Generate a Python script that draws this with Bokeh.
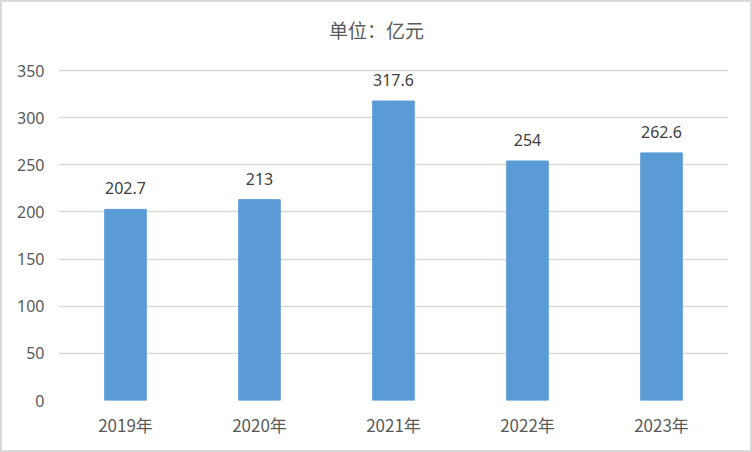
from bokeh.plotting import figure
from bokeh.models import ColumnDataSource, Range1d
from bokeh.core.properties import value
from bokeh.embed import file_html
from bokeh.resources import INLINE

categories = ["2019年", "2020年", "2021年", "2022年", "2023年"]
values = [202.7, 213, 317.6, 254, 262.6]
labels = ["202.7", "213", "317.6", "254", "262.6"]
y_ticks = [0, 50, 100, 150, 200, 250, 300, 350]
title_text = "单位：亿元"

source = ColumnDataSource(dict(cat=categories, val=values, lab=labels))

# frame spans the full canvas height above the axis so the title can sit inside it
y_top = 350 * 398 / 330
p = figure(x_range=categories, y_range=Range1d(0, y_top), width=748, height=448,
           output_backend="svg", toolbar_location=None,
           min_border_left=56, min_border_right=26, min_border_top=0, min_border_bottom=54)
p.x_range.range_padding = 0
p.styles = {"border": "2px solid #d9d9d9", "box-sizing": "content-box"}

p.vbar(x="cat", top="val", width=0.31, source=source, color="#5B9BD5")
p.text(x="cat", y="val", text="lab", source=source, text_align="center",
       text_baseline="middle", y_offset=-21, text_font=value("Noto Sans"),
       text_font_size="16px", text_color="#404040")

title_y = 350 * (400 - 29) / 330
p.text(x=[2.373], y=[title_y], text=[title_text], text_align="center",
       text_baseline="middle", text_font=value("Noto Sans CJK SC"),
       text_font_size="19px", text_color="#595959")

p.yaxis.ticker = y_ticks
p.ygrid.grid_line_color = "#d9d9d9"
p.ygrid.grid_line_width = 1.3
p.xgrid.grid_line_color = None
p.outline_line_color = None
for ax in (p.xaxis, p.yaxis):
    ax.axis_line_color = None
    ax.major_tick_line_color = None
    ax.minor_tick_line_color = None
    ax.major_label_text_color = "#595959"
p.yaxis.major_label_text_font_size = "16px"
p.xaxis.major_label_text_font_size = "17px"
p.yaxis.major_label_text_font = "Noto Sans"
p.xaxis.major_label_text_font = "Noto Sans CJK SC"
p.yaxis.major_label_standoff = 8
p.xaxis.major_label_standoff = 5

open("out.html", "w").write(file_html(p, INLINE))
